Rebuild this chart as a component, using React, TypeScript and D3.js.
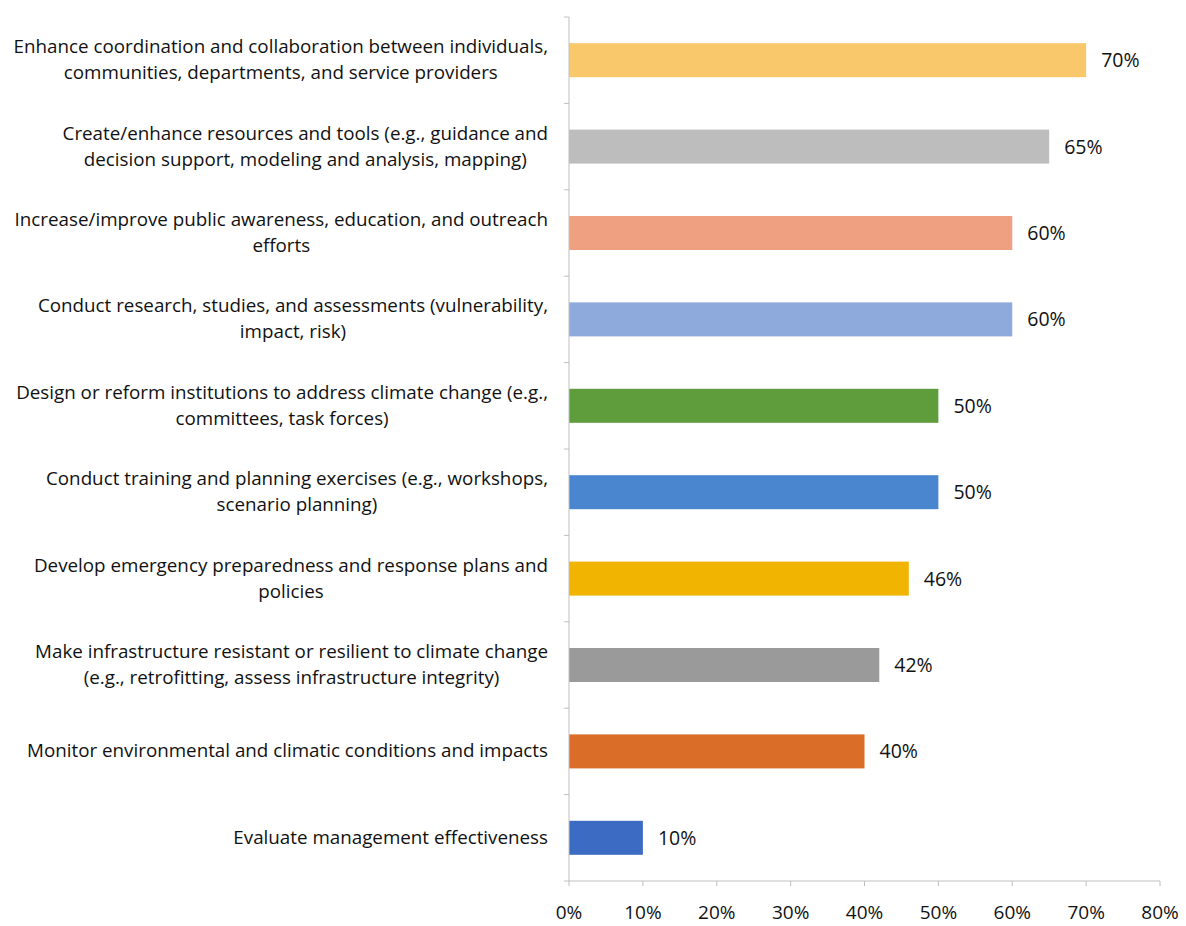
import React, { useEffect, useRef } from "react";
import * as d3 from "d3";

const categories: string[][] = [
  ["Enhance coordination and collaboration between individuals,", "communities, departments, and service providers"],
  ["Create/enhance resources and tools (e.g., guidance and", "decision support, modeling and analysis, mapping)"],
  ["Increase/improve public awareness, education, and outreach", "efforts"],
  ["Conduct research, studies, and assessments (vulnerability,", "impact, risk)"],
  ["Design or reform institutions to address climate change (e.g.,", "committees, task forces)"],
  ["Conduct training and planning exercises (e.g., workshops,", "scenario planning)"],
  ["Develop emergency preparedness and response plans and", "policies"],
  ["Make infrastructure resistant or resilient to climate change", "(e.g., retrofitting, assess infrastructure integrity)"],
  ["Monitor environmental and climatic conditions and impacts"],
  ["Evaluate management effectiveness"],
];
const values: number[] = [70, 65, 60, 60, 50, 50, 46, 42, 40, 10];
const barColors: string[] = [
  "#F8C86A", "#BDBDBD", "#EFA080", "#8EAADD", "#5F9C3C",
  "#4A86CF", "#F1B400", "#9A9A9A", "#DA6D27", "#3B6BC3",
];
const xTicks: number[] = [0, 10, 20, 30, 40, 50, 60, 70, 80];

const W = 1186;
const H = 926;
const FONT = "'Open Sans', Lato, sans-serif";

export default function App() {
  const ref = useRef<SVGSVGElement>(null);
  useEffect(() => {
    const svg = d3.select(ref.current);
    svg.selectAll("*").remove();
    const left = 569, right = 1160, top = 17, bottom = 881;
    const x = d3.scaleLinear().domain([0, 80]).range([left, right]);
    const band = d3.scaleBand<number>().domain(d3.range(categories.length)).range([top, bottom]);

    const g = svg.append("g");
    g.selectAll("rect.bar").data(values).enter().append("rect")
      .attr("x", x(0)).attr("y", (_, i) => band(i)! + band.bandwidth() / 2 - 17)
      .attr("width", (d) => x(d) - x(0)).attr("height", 34)
      .attr("fill", (_, i) => barColors[i]);

    g.append("line").attr("x1", left).attr("x2", left).attr("y1", top).attr("y2", bottom).attr("stroke", "#BFBFBF").attr("stroke-width", 1);
    g.append("line").attr("x1", left).attr("x2", right).attr("y1", bottom).attr("y2", bottom).attr("stroke", "#BFBFBF").attr("stroke-width", 1);
    for (let i = 0; i <= categories.length; i++) {
      const yy = top + i * band.bandwidth();
      g.append("line").attr("x1", left - 5).attr("x2", left).attr("y1", yy).attr("y2", yy).attr("stroke", "#BFBFBF");
    }
    xTicks.forEach((t) => {
      g.append("line").attr("x1", x(t)).attr("x2", x(t)).attr("y1", bottom).attr("y2", bottom + 5).attr("stroke", "#BFBFBF");
      g.append("text").attr("x", x(t)).attr("y", bottom + 38).attr("text-anchor", "middle")
        .attr("font-family", FONT).attr("font-size", 19).attr("fill", "#111").text(`${t}%`);
    });

    values.forEach((v, i) => {
      g.append("text").attr("x", x(v) + 15).attr("y", band(i)! + band.bandwidth() / 2 + 7)
        .attr("font-family", FONT).attr("font-size", 19.5).attr("fill", "#111").text(`${v}%`);
    });

    categories.forEach((lines, i) => {
      const cy = band(i)! + band.bandwidth() / 2;
      const lh = 26;
      const texts = lines.map((l, j) =>
        g.append("text").attr("y", cy + (j - (lines.length - 1) / 2) * lh + 6)
          .attr("font-family", FONT).attr("font-size", 18.8).attr("fill", "#111")
          .attr("text-anchor", "middle").text(l)
      );
      const maxW = Math.max(...texts.map((t) => (t.node() as SVGTextElement).getComputedTextLength()));
      const cx = 548 - maxW / 2;
      texts.forEach((t) => t.attr("x", cx));
    });
  }, []);
  return (
    <svg ref={ref} width={W} height={H} style={{ position: "absolute", left: 0, top: 0, background: "#fff" }} />
  );
}
